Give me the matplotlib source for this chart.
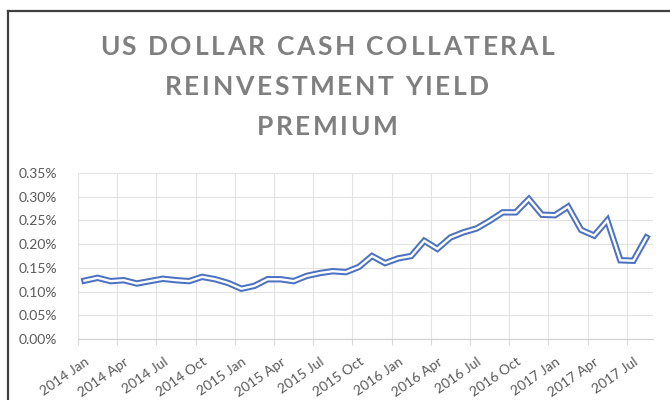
import numpy as np
import matplotlib
matplotlib.use("Agg")
import matplotlib.pyplot as plt
from matplotlib.lines import Line2D
from matplotlib.font_manager import FontProperties

# Monthly yield premium, Jan 2014 - Aug 2017 (percent)
months = ["2014 Jan", "2014 Feb", "2014 Mar", "2014 Apr", "2014 May", "2014 Jun",
          "2014 Jul", "2014 Aug", "2014 Sep", "2014 Oct", "2014 Nov", "2014 Dec",
          "2015 Jan", "2015 Feb", "2015 Mar", "2015 Apr", "2015 May", "2015 Jun",
          "2015 Jul", "2015 Aug", "2015 Sep", "2015 Oct", "2015 Nov", "2015 Dec",
          "2016 Jan", "2016 Feb", "2016 Mar", "2016 Apr", "2016 May", "2016 Jun",
          "2016 Jul", "2016 Aug", "2016 Sep", "2016 Oct", "2016 Nov", "2016 Dec",
          "2017 Jan", "2017 Feb", "2017 Mar", "2017 Apr", "2017 May", "2017 Jun",
          "2017 Jul", "2017 Aug"]
premium = [0.123, 0.129, 0.122, 0.124, 0.117, 0.122, 0.127, 0.124, 0.122, 0.131,
           0.126, 0.118, 0.106, 0.112, 0.126, 0.126, 0.122, 0.133, 0.139, 0.143,
           0.141, 0.152, 0.175, 0.160, 0.170, 0.175, 0.207, 0.190, 0.214, 0.225,
           0.233, 0.249, 0.267, 0.267, 0.295, 0.262, 0.261, 0.279, 0.230, 0.218,
           0.250, 0.166, 0.165, 0.214]
yticks = [0.00, 0.05, 0.10, 0.15, 0.20, 0.25, 0.30, 0.35]
title_lines = ["US DOLLAR CASH COLLATERAL", "REINVESTMENT YIELD", "PREMIUM"]

plt.rcParams["font.family"] = ["Lato", "DejaVu Sans"]

fig = plt.figure(figsize=(6.7, 4.0), dpi=100)
ax = fig.add_axes([0.1164, 0.1525, 0.8582, 0.415])

x = np.arange(len(months))
blue = "#4d72c2"
# double line: thick blue stroke with a thin white core
ax.plot(x, premium, color=blue, lw=4.6, solid_joinstyle="miter", zorder=3)
ax.plot(x, premium, color="white", lw=1.7, solid_joinstyle="miter", zorder=4)

ax.set_xlim(-0.5, len(months) - 0.5)
ax.set_ylim(0, 0.35)
ax.set_yticks(yticks)
ax.set_yticklabels([f"{v:.2f}%" for v in yticks])

# vertical gridlines sit on category boundaries every quarter
bounds = np.arange(-0.5, len(months) - 0.5, 3)
ax.set_xticks(bounds)
ax.set_xticklabels([])
ax.set_xticks(x[::3], minor=True)
ax.set_xticklabels(months[::3], minor=True, rotation=35, ha="right",
                   rotation_mode="anchor")
ax.tick_params(axis="x", which="minor", length=0, pad=12, labelsize=10,
               labelcolor="#595959")
ax.tick_params(axis="x", which="major", length=4, color="#d9d9d9", width=0.8)
ax.tick_params(axis="y", length=0, pad=15, labelsize=10, labelcolor="#595959")

ax.grid(True, which="major", color="#e3e3e3", lw=0.8)
ax.set_axisbelow(True)
for side in ["top", "right", "left"]:
    ax.spines[side].set_visible(False)
ax.spines["bottom"].set_color("#d0d0d0")
ax.spines["bottom"].set_linewidth(0.8)

# chart title with extra letter spacing, placed character by character
renderer = fig.canvas.get_renderer()
fp = FontProperties(family="Lato", weight="bold", size=19)
tracking = 2.6  # px between letters


def char_width(ch):
    w2 = renderer.get_text_width_height_descent("II", fp, ismath=False)[0]
    s = "I I" if ch == " " else "I" + ch + "I"
    w1 = renderer.get_text_width_height_descent(s, fp, ismath=False)[0]
    return w1 - w2


W, H = fig.bbox.width, fig.bbox.height
for i, line in enumerate(title_lines):
    widths = [char_width(c) for c in line]
    total = sum(widths) + tracking * (len(line) - 1)
    cx = 327 - total / 2
    cy = H - (47 + 40 * i)
    for c, w in zip(line, widths):
        if c != " ":
            fig.text(cx / W, cy / H, c, ha="left", va="center",
                     fontproperties=fp, color="#7f7f7f")
        cx += w + tracking

# outer frame (left and top edges)
fig.add_artist(Line2D([8 / 670, 8 / 670], [0, 1 - 11 / 400], color="#404040", lw=1.6))
fig.add_artist(Line2D([8 / 670, 1], [1 - 11 / 400, 1 - 11 / 400], color="#404040", lw=1.6))

fig.savefig("out.png", dpi=100)
